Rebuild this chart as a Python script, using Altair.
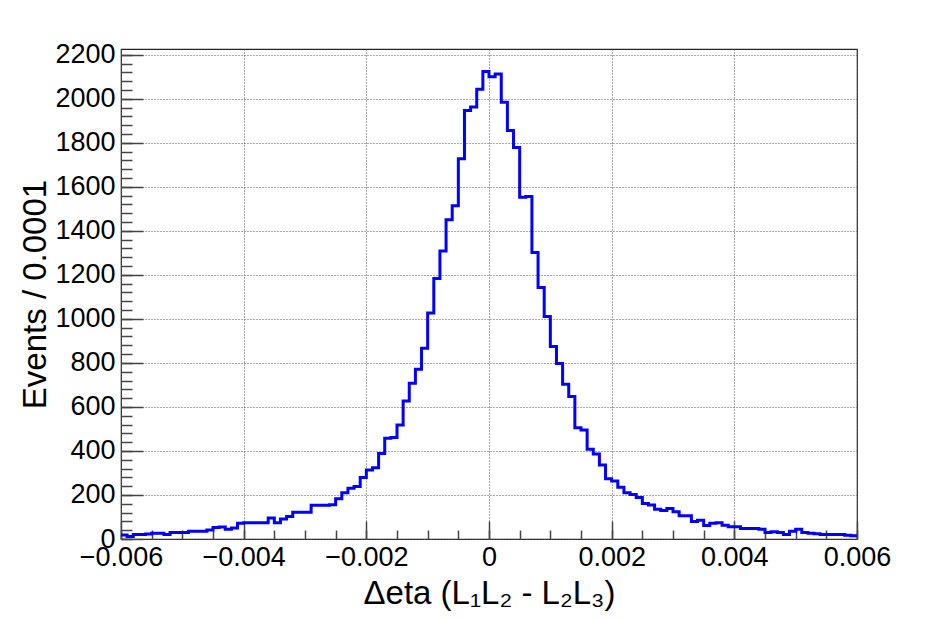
import altair as alt
import pandas as pd

# Histogram binning: 120 bins of width 0.0001 from -0.006 to 0.006
bin_low = -0.006
bin_width = 0.0001
counts = [
    18, 11, 20, 20, 23, 26, 26, 20, 30, 30,
    30, 35, 35, 35, 41, 52, 55, 44, 50, 71,
    74, 74, 74, 74, 95, 74, 91, 102, 121, 121,
    121, 153, 153, 153, 156, 183, 210, 231, 239, 279,
    314, 324, 388, 458, 461, 518, 627, 708, 771, 867,
    1027, 1183, 1308, 1450, 1514, 1727, 1947, 1962, 2043, 2124,
    2100, 2112, 1984, 1856, 1779, 1553, 1556, 1302, 1142, 1011,
    874, 797, 703, 647, 505, 495, 408, 386, 336, 274,
    264, 235, 210, 202, 189, 161, 155, 135, 130, 139,
    124, 106, 106, 80, 85, 61, 71, 74, 62, 56,
    56, 48, 48, 48, 44, 30, 33, 29, 21, 35,
    44, 29, 26, 24, 21, 21, 21, 21, 17, 15,
]

x_major = [-0.006, -0.004, -0.002, 0.0, 0.002, 0.004, 0.006]
x_minor = [-0.006, -0.0055, -0.005, -0.0045, -0.004, -0.0035, -0.003, -0.0025,
           -0.002, -0.0015, -0.001, -0.0005, 0.0, 0.0005, 0.001, 0.0015, 0.002,
           0.0025, 0.003, 0.0035, 0.004, 0.0045, 0.005, 0.0055, 0.006]
y_major = [0, 200, 400, 600, 800, 1000, 1200, 1400, 1600, 1800, 2000, 2200]
y_minor = list(range(0, 2201, 40))
y_max = 2226

x_title = "Δeta (L₁L₂ - L₂L₃)"
y_title = "Events / 0.0001"

edges = [round(bin_low + i * bin_width, 7) for i in range(len(counts) + 1)]
df = pd.DataFrame({"x": edges, "n": counts + [counts[-1]]})

FONT = "Liberation Sans"
W, H = 736, 490

xscale = alt.Scale(domain=[-0.006, 0.006], nice=False, zero=False)
yscale = alt.Scale(domain=[0, y_max], nice=False)

base = alt.Chart(df)

GRID = dict(grid=True, gridDash=[1, 2], gridColor="#555", gridWidth=1)

hist = base.mark_line(
    interpolate="step-after", color="#0000ff", strokeWidth=3, clip=True
).encode(
    x=alt.X(
        "x:Q", scale=xscale,
        axis=alt.Axis(
            orient="bottom", values=x_major, ticks=False, domain=False,
            labelExpr="datum.value == 0 ? '0' : format(datum.value, '.3f')",
            labelFont=FONT, labelFontSize=27, labelColor="black",
            labelPadding=5, labelFlush=False, labelOverlap=False,
            title=x_title, titleFont=FONT, titleFontSize=33,
            titleFontWeight="normal", titleColor="black",
            titleY=64, titleBaseline="alphabetic", **GRID,
        ),
    ),
    y=alt.Y(
        "n:Q", scale=yscale,
        axis=alt.Axis(
            orient="left", values=y_major, ticks=False, domain=False,
            format="d",
            labelFont=FONT, labelFontSize=27, labelColor="black",
            labelPadding=6, labelOverlap=False,
            title=y_title, titleFont=FONT, titleFontSize=33,
            titleFontWeight="normal", titleColor="black",
            titleX=-76, titleBaseline="alphabetic", **GRID,
        ),
    ),
)


def tick_layer_x(values, size):
    return base.mark_line(strokeOpacity=0).encode(
        x=alt.X("x:Q", scale=xscale, axis=alt.Axis(
            orient="top", offset=-H, values=values, tickSize=size,
            tickColor="#444", tickWidth=1.5, labels=False, domain=False,
            grid=False, title=None)),
        y=alt.Y("n:Q", scale=yscale, axis=None),
    )


def tick_layer_y(values, size):
    return base.mark_line(strokeOpacity=0).encode(
        x=alt.X("x:Q", scale=xscale, axis=None),
        y=alt.Y("n:Q", scale=yscale, axis=alt.Axis(
            orient="right", offset=-W, values=values, tickSize=size,
            tickColor="#444", tickWidth=1.5, labels=False, domain=False,
            grid=False, title=None)),
    )


chart = alt.layer(
    hist,
    tick_layer_x(x_major, 18),
    tick_layer_x(x_minor, 9),
    tick_layer_y(y_major, 22),
    tick_layer_y(y_minor, 11),
).resolve_axis(
    x="independent", y="independent"
).properties(
    width=W, height=H,
    autosize=alt.AutoSizeParams(type="none"),
    padding={"left": 113, "top": 41, "right": 60, "bottom": 75},
    background="white",
).configure_view(
    stroke="#222", strokeWidth=1.2
)

chart.save("out.html", embed_options={"renderer": "svg", "actions": False})
